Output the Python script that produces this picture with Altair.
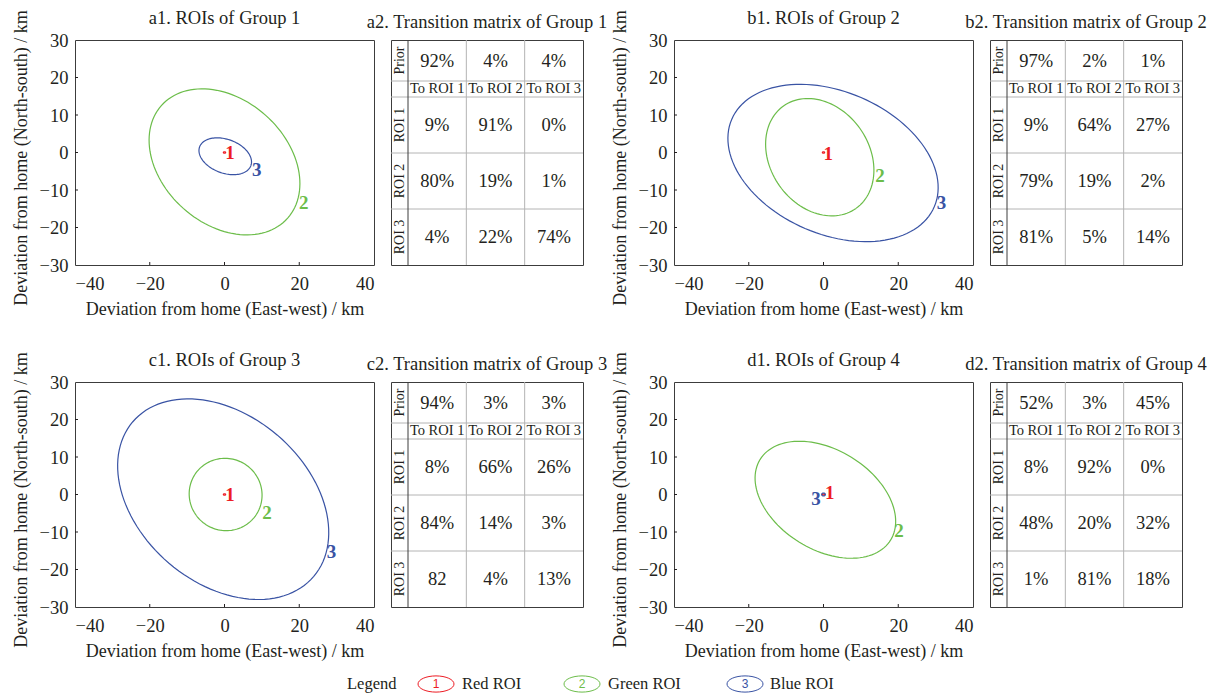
import altair as alt
import numpy as np
import pandas as pd

FONT = "Liberation Serif"
INK = "#231f20"
GRID = "#b4b4b4"
BORDER = "#3c3c3c"

ROI_IDS = ["1", "2", "3"]
ROI_NAMES = ["Red ROI", "Green ROI", "Blue ROI"]
ROI_COLORS = ["#ed1c24", "#6cbd4a", "#3953a4"]

GROUPS = [1, 2, 3, 4]
PLOT_TITLES = ["a1. ROIs of Group 1", "b1. ROIs of Group 2",
               "c1. ROIs of Group 3", "d1. ROIs of Group 4"]
TABLE_TITLES = ["a2. Transition matrix of Group 1", "b2. Transition matrix of Group 2",
                "c2. Transition matrix of Group 3", "d2. Transition matrix of Group 4"]
X_TITLE = "Deviation from home (East-west) / km"
Y_TITLE = "Deviation from home (North-south) / km"
X_TICKS = [-40, -20, 0, 20, 40]
Y_TICKS = [-30, -20, -10, 0, 10, 20, 30]
X_INNER_TICKS = [-20, 0, 20]
Y_INNER_TICKS = [-20, -10, 0, 10, 20]

# ROI ellipses: centre, semi-axes (km), tilt (deg)
ELL_GROUP = [1, 1, 1, 2, 2, 2, 3, 3, 3, 4, 4, 4]
ELL_ROI = ["1", "2", "3"] * 4
ELL_CX = [0, 0, 0.2, 0, -1.0, 2.55, 0, 0.3, -0.35, 0, 0.5, 0]
ELL_CY = [0, -2.5, -1.0, 0, -1.25, -2.8, 0, 0, -1.25, 0, -1.4, 0]
ELL_A = [0.3, 22.6, 7.3, 0.3, 16.75, 29.5, 0.3, 9.8, 31.8, 0.3, 20.5, 0.5]
ELL_B = [0.2, 16.6, 4.5, 0.2, 13.2, 19.0, 0.2, 9.6, 22.4, 0.2, 13.3, 0.4]
ELL_ANG = [0, -41.6, -20.0, 0, -54.6, -23.2, 0, -30.0, -40.35, 0, -31.5, 0]

# ROI number labels (km)
LAB_GROUP = ELL_GROUP
LAB_ROI = ELL_ROI
LAB_X = [1.5, 21.2, 8.6, 1.3, 15.1, 31.6, 1.5, 11.4, 28.6, 1.7, 20.2, -2.0]
LAB_Y = [0.0, -13.4, -4.75, -0.5, -6.3, -13.4, 0.0, -5.0, -15.3, 0.3, -9.7, -1.3]

# transition tables
PRIOR = [["92%", "4%", "4%"], ["97%", "2%", "1%"], ["94%", "3%", "3%"], ["52%", "3%", "45%"]]
TRANS = [
    [["9%", "91%", "0%"], ["80%", "19%", "1%"], ["4%", "22%", "74%"]],
    [["9%", "64%", "27%"], ["79%", "19%", "2%"], ["81%", "5%", "14%"]],
    [["8%", "66%", "26%"], ["84%", "14%", "3%"], ["82", "4%", "13%"]],
    [["8%", "92%", "0%"], ["48%", "20%", "32%"], ["1%", "81%", "18%"]],
]
HEAD = ["To ROI 1", "To ROI 2", "To ROI 3"]
ROW_LABELS = ["Prior", "", "ROI 1", "ROI 2", "ROI 3"]

# layout
PW, PH = 299, 225
TW = 192
SPACER_W = 57
COL_W = [17, 58.33, 58.33, 58.34]
ROW_H = [41, 16, 56, 56, 56]
PLOT_TITLE_OFFSET = -18
TABLE_TITLE_OFFSET = 8

# ---------- ellipse outlines ----------
t = np.deg2rad(np.arange(0, 361, 3))
rows = []
for g, r, cx, cy, a, b, ang in zip(ELL_GROUP, ELL_ROI, ELL_CX, ELL_CY, ELL_A, ELL_B, ELL_ANG):
    th = np.deg2rad(ang)
    xs = cx + a * np.cos(t) * np.cos(th) - b * np.sin(t) * np.sin(th)
    ys = cy + a * np.cos(t) * np.sin(th) + b * np.sin(t) * np.cos(th)
    for k, (x, y) in enumerate(zip(xs, ys)):
        rows.append({"group": g, "roi": r, "t": k, "x": x, "y": y})
ell_df = pd.DataFrame(rows)
lab_df = pd.DataFrame({"group": LAB_GROUP, "roi": LAB_ROI, "x": LAB_X, "y": LAB_Y})

color = alt.Color("roi:N", scale=alt.Scale(domain=ROI_IDS, range=ROI_COLORS), legend=None)
xs_scale = alt.Scale(domain=[-40, 40], nice=False, zero=False)
ys_scale = alt.Scale(domain=[-30, 30], nice=False, zero=False)
X_AX = alt.Axis(values=X_TICKS, title=X_TITLE)
Y_AX = alt.Axis(values=Y_TICKS, title=Y_TITLE, titleY=PH / 2 + 5)


def roi_plot(g, title):
    e = ell_df[ell_df.group == g]
    l = lab_df[lab_df.group == g]
    X = alt.X("x:Q", scale=xs_scale, axis=X_AX)
    Y = alt.Y("y:Q", scale=ys_scale, axis=Y_AX)
    lines = alt.Chart(e).mark_line(strokeWidth=1.2).encode(
        x=X, y=Y, detail="roi:N", order="t:Q", color=color)
    labels = alt.Chart(l).mark_text(font=FONT, fontSize=19, fontWeight="bold").encode(
        x=X, y=Y, text="roi:N", color=color)
    xt = alt.Chart(pd.DataFrame({"x": X_INNER_TICKS})).mark_rule(color=INK, strokeWidth=1).encode(
        x=X, y=alt.value(PH), y2=alt.value(PH - 3))
    yt = alt.Chart(pd.DataFrame({"y": Y_INNER_TICKS})).mark_rule(color=INK, strokeWidth=1).encode(
        y=Y, x=alt.value(0), x2=alt.value(3))
    return alt.layer(lines, labels, xt, yt).properties(
        width=PW, height=PH, title=alt.TitleParams(title, offset=PLOT_TITLE_OFFSET))


col_edges = np.concatenate([[0], np.cumsum(COL_W)])
row_edges = np.concatenate([[0], np.cumsum(ROW_H)])
TX = float(col_edges[-1])
TY = float(row_edges[-1])
tx_scale = alt.Scale(domain=[0, TX], nice=False, zero=False)
ty_scale = alt.Scale(domain=[0, TY], nice=False, zero=False, reverse=True)


def table(gi, title):
    cells = []
    for r in range(5):
        ym = (row_edges[r] + row_edges[r + 1]) / 2
        cells.append({"kind": "rowlab", "x": (col_edges[0] + col_edges[1]) / 2, "y": ym,
                      "text": ROW_LABELS[r]})
        for c in range(3):
            xm = (col_edges[c + 1] + col_edges[c + 2]) / 2
            if r == 0:
                txt, kind = PRIOR[gi][c], "val"
            elif r == 1:
                txt, kind = HEAD[c], "head"
            else:
                txt, kind = TRANS[gi][r - 2][c], "val"
            cells.append({"kind": kind, "x": xm, "y": ym, "text": txt})
    cdf = pd.DataFrame(cells)
    light = []
    for ce in col_edges[2:-1]:
        light.append({"x": ce, "x2": ce, "y": 0, "y2": TY})
    for re in row_edges[1:-1]:
        light.append({"x": 0, "x2": TX, "y": re, "y2": re})
    dark = [{"x": col_edges[1], "x2": col_edges[1], "y": 0, "y2": TY}]
    X = alt.X("x:Q", scale=tx_scale, axis=None)
    Y = alt.Y("y:Q", scale=ty_scale, axis=None)
    g_light = alt.Chart(pd.DataFrame(light)).mark_rule(strokeWidth=1, color=GRID).encode(
        x=X, x2="x2:Q", y=Y, y2="y2:Q")
    g_dark = alt.Chart(pd.DataFrame(dark)).mark_rule(strokeWidth=1, color=BORDER).encode(
        x=X, x2="x2:Q", y=Y, y2="y2:Q")
    vals = alt.Chart(cdf[cdf.kind == "val"]).mark_text(font=FONT, fontSize=18.5, color=INK).encode(
        x=X, y=Y, text="text:N")
    heads = alt.Chart(cdf[cdf.kind == "head"]).mark_text(font=FONT, fontSize=14.5, color=INK).encode(
        x=X, y=Y, text="text:N")
    rlab = alt.Chart(cdf[cdf.kind == "rowlab"]).mark_text(font=FONT, fontSize=14, color=INK, angle=270).encode(
        x=X, y=Y, text="text:N")
    return alt.layer(g_light, g_dark, vals, heads, rlab).properties(
        width=TW, height=PH, title=alt.TitleParams(title, offset=TABLE_TITLE_OFFSET))


def spacer():
    return alt.Chart(pd.DataFrame({"v": [0]})).mark_point(opacity=0).encode(
        x=alt.X("v:Q", axis=None), y=alt.Y("v:Q", axis=None)
    ).properties(width=SPACER_W, height=PH, view=alt.ViewBackground(strokeOpacity=0))


panels = []
for row in [(0, 1), (2, 3)]:
    i, j = row
    panels += [roi_plot(GROUPS[i], PLOT_TITLES[i]), table(i, TABLE_TITLES[i]), spacer(),
               roi_plot(GROUPS[j], PLOT_TITLES[j]), table(j, TABLE_TITLES[j])]

grid_chart = alt.concat(*panels, columns=5, spacing={"row": 117, "column": 17}, bounds="flush")

# ---------- legend (positions relative to the left edge of the first plot) ----------
LW, LH = 1107, 16
LEG_TITLE_X = 272
LEG_SYM_X = [361, 507, 670]
LEG_LAB_X = [387, 533, 695]
ELLIPSE_PATH = "M -1 0 A 1 0.45 0 1 1 1 0 A 1 0.45 0 1 1 -1 0 Z"

leg_df = pd.DataFrame({"roi": ROI_IDS, "name": ROI_NAMES, "sx": LEG_SYM_X, "lx": LEG_LAB_X})
lx_scale = alt.Scale(domain=[0, LW], nice=False, zero=False)
leg_title = alt.Chart(pd.DataFrame({"px": [LEG_TITLE_X], "text": ["Legend"]})).mark_text(
    font=FONT, fontSize=16.5, color=INK, align="left").encode(
    x=alt.X("px:Q", scale=lx_scale, axis=None), y=alt.value(LH / 2), text="text:N")
leg_sym = alt.Chart(leg_df).mark_point(shape=ELLIPSE_PATH, size=1296, filled=False, strokeWidth=1, opacity=1).encode(
    x=alt.X("sx:Q", scale=lx_scale, axis=None), y=alt.value(LH / 2), color=color)
leg_num = alt.Chart(leg_df).mark_text(font="Liberation Sans", fontSize=12).encode(
    x=alt.X("sx:Q", scale=lx_scale, axis=None), y=alt.value(LH / 2), text="roi:N", color=color)
leg_lab = alt.Chart(leg_df).mark_text(font=FONT, fontSize=16.5, color=INK, align="left").encode(
    x=alt.X("lx:Q", scale=lx_scale, axis=None), y=alt.value(LH / 2), text="name:N")
legend = alt.layer(leg_title, leg_sym, leg_num, leg_lab).properties(
    width=LW, height=LH, view=alt.ViewBackground(strokeOpacity=0))

chart = alt.vconcat(grid_chart, legend, spacing=12).properties(
    padding={"left": 3, "top": 0, "right": 0, "bottom": 0}
).configure_view(
    stroke=BORDER, strokeWidth=1
).configure_axis(
    labelFont=FONT, labelFontSize=18.5, labelColor=INK,
    titleFont=FONT, titleFontSize=18, titleColor=INK, titleFontWeight="normal",
    grid=False, domain=False, ticks=False
).configure_axisX(labelPadding=9.5, titlePadding=7).configure_axisY(
    labelPadding=7, titlePadding=9
).configure_title(
    font=FONT, fontSize=18.5, fontWeight="normal", color=INK, anchor="middle"
)

chart.save("out.html", embed_options={"renderer": "svg", "actions": False})
